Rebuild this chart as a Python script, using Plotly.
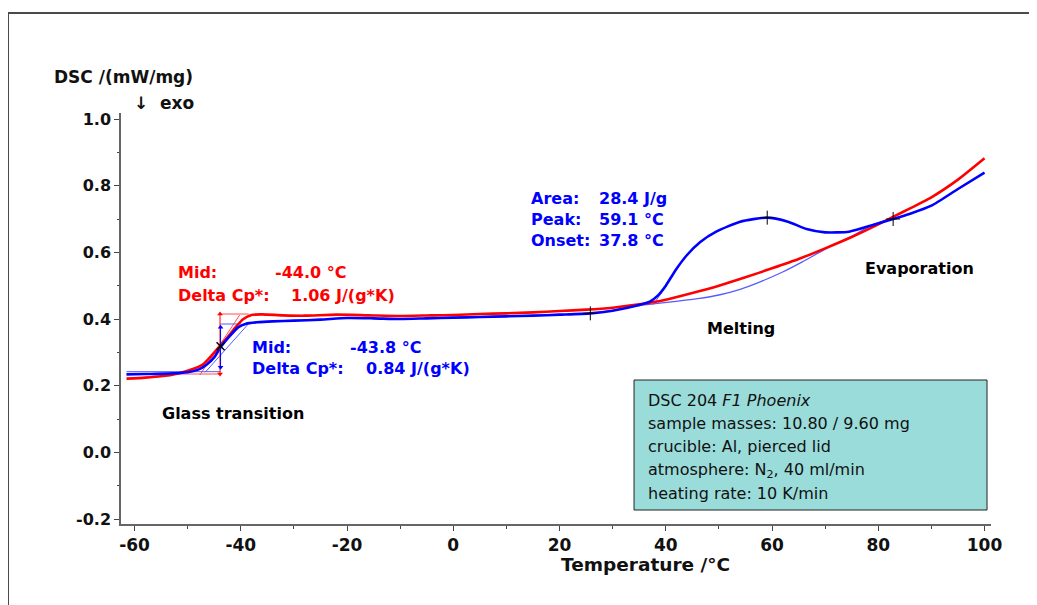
import plotly.graph_objects as go

# ---------------- data ----------------
temp_red = [-61.5, -58, -55, -52, -49, -47, -45.5, -44, -42.5, -41, -39.5, -38, -36, -32, -28,
            -22, -16, -10, -4, 0, 5, 10, 15, 20, 25, 30, 35, 40, 45, 50, 55, 60, 65, 70, 75,
            80, 85, 90, 95, 100]
dsc_red = [0.221, 0.224, 0.228, 0.236, 0.250, 0.265, 0.290, 0.318, 0.345, 0.375, 0.400, 0.412,
           0.414, 0.411, 0.410, 0.413, 0.411, 0.409, 0.411, 0.412, 0.415, 0.417, 0.420, 0.424,
           0.428, 0.434, 0.444, 0.458, 0.478, 0.500, 0.525, 0.552, 0.580, 0.612, 0.646, 0.684,
           0.724, 0.765, 0.818, 0.882]

temp_blue = [-61.5, -58, -54, -50, -48, -46.5, -45, -43.8, -42, -40.5, -39, -37, -34, -30, -25,
             -20, -15, -10, -5, 0, 5, 10, 15, 20, 25.8, 30, 35, 37, 38.5, 40, 42, 44, 46.5, 49.5,
             54, 59, 63, 66.5, 70, 74.5, 79, 82.8, 86, 90, 95, 100]
dsc_blue = [0.234, 0.235, 0.236, 0.240, 0.248, 0.262, 0.285, 0.315, 0.350, 0.375, 0.386, 0.390,
            0.393, 0.395, 0.398, 0.403, 0.402, 0.400, 0.402, 0.404, 0.406, 0.408, 0.410, 0.413,
            0.417, 0.425, 0.442, 0.452, 0.470, 0.500, 0.550, 0.592, 0.631, 0.662, 0.692, 0.704,
            0.692, 0.670, 0.660, 0.662, 0.682, 0.700, 0.716, 0.740, 0.790, 0.839]

# melting peak baseline (blue, thin)
base_temp = [25.8, 30, 35, 38, 42, 46, 50, 54, 58, 62, 66, 70.3, 75, 79, 82.8]
base_dsc = [0.417, 0.426, 0.440, 0.446, 0.453, 0.461, 0.472, 0.489, 0.513, 0.541, 0.574, 0.612,
            0.648, 0.683, 0.702]
onset_tan_temp = [37.6, 40.2]
onset_tan_dsc = [0.443, 0.500]

# glass transition evaluation constructions
red_low_temp = [-61.5, -43.9]
red_low_dsc = [0.235, 0.235]
red_high_temp = [-43.9, -38.5]
red_high_dsc = [0.415, 0.415]
red_tan_temp = [-47.7, -40.2]
red_tan_dsc = [0.232, 0.412]
red_step_temp = [-43.9, -43.9]
red_step_dsc = [0.235, 0.415]

blue_low_temp = [-61.5, -43.8]
blue_low_dsc = [0.242, 0.242]
blue_high_temp = [-43.8, -39.9]
blue_high_dsc = [0.385, 0.385]
blue_tan_temp = [-46.7, -38.3]
blue_tan_dsc = [0.240, 0.390]
blue_step_temp = [-43.8, -43.8]
blue_step_dsc = [0.255, 0.375]

mid_temp = [-43.8]
mid_dsc = [0.318]

mark_temp = [25.8, 59.1, 82.8]
mark_dsc = [0.417, 0.704, 0.700]

x_tickvals = [-60, -40, -20, 0, 20, 40, 60, 80, 100]
x_ticktext = ["-60", "-40", "-20", "0", "20", "40", "60", "80", "100"]
x_minor = [-50, -30, -10, 10, 30, 50, 70, 90]
y_tickvals = [-0.2, 0.0, 0.2, 0.4, 0.6, 0.8, 1.0]
y_ticktext = ["-0.2", "0.0", "0.2", "0.4", "0.6", "0.8", "1.0"]
y_minor = [-0.1, 0.1, 0.3, 0.5, 0.7, 0.9]

info_lines = ["DSC 204 <i>F1 Phoenix</i>",
              "sample masses: 10.80 / 9.60 mg",
              "crucible: Al, pierced lid",
              "atmosphere: N<sub>2</sub>, 40 ml/min",
              "heating rate: 10 K/min"]

RED = "#ff0000"
BLUE = "#0000ff"
LRED = "#ff5050"
LBLUE = "#5a5aff"
BOLD = "DejaVu Sans"

# page geometry (the page body has an 8 px margin)
OFF = 8
W, H = 1037 - OFF, 605 - OFF
L, R, T, B = 121 - OFF, 46, 113 - OFF, 81
pw, ph = W - L - R, H - T - B


def px2paper_x(px):
    return (px - OFF - L) / pw


def px2paper_y(py):
    return (H - B - (py - OFF)) / ph


fig = go.Figure()


def thin(xs, ys, color, width=1.0, shape="linear"):
    fig.add_trace(go.Scatter(x=xs, y=ys, mode="lines", line=dict(color=color, width=width, shape=shape),
                             hoverinfo="skip"))


# thin construction lines
thin(red_low_temp, red_low_dsc, LRED)
thin(red_high_temp, red_high_dsc, LRED)
thin(red_tan_temp, red_tan_dsc, LRED)
thin(blue_low_temp, blue_low_dsc, LBLUE)
thin(blue_high_temp, blue_high_dsc, LBLUE)
thin(blue_tan_temp, blue_tan_dsc, LBLUE)
thin(base_temp, base_dsc, LBLUE, 1.3, "spline")
thin(onset_tan_temp, onset_tan_dsc, LBLUE)

# main curves
fig.add_trace(go.Scatter(x=temp_red, y=dsc_red, mode="lines",
                         line=dict(color=RED, width=2.6, shape="spline", smoothing=0.6)))
fig.add_trace(go.Scatter(x=temp_blue, y=dsc_blue, mode="lines",
                         line=dict(color=BLUE, width=2.6, shape="spline", smoothing=0.6)))

# step arrows
fig.add_trace(go.Scatter(x=red_step_temp, y=red_step_dsc, mode="lines+markers",
                         line=dict(color=RED, width=1),
                         marker=dict(symbol=["triangle-down", "triangle-up"], size=5, color=RED)))
fig.add_trace(go.Scatter(x=blue_step_temp, y=blue_step_dsc, mode="lines+markers",
                         line=dict(color=BLUE, width=1),
                         marker=dict(symbol=["triangle-down", "triangle-up"], size=5, color=BLUE)))

# markers
fig.add_trace(go.Scatter(x=mid_temp, y=mid_dsc, mode="markers",
                         marker=dict(symbol="x-thin", size=8, line=dict(color="black", width=1.5))))
fig.add_trace(go.Scatter(x=mark_temp, y=mark_dsc, mode="markers",
                         marker=dict(symbol="cross-thin", size=10, line=dict(color="black", width=1))))


def txt(x, y, s, color="black", size=16):
    fig.add_annotation(x=x, y=y, xref="x", yref="y", text=s, showarrow=False,
                       xanchor="left", yanchor="middle",
                       font=dict(family=BOLD, size=size, color=color, weight="bold"))


# red Tg text
txt(-52.2, 0.541, "Mid:", RED)
txt(-33.9, 0.541, "-44.0 °C", RED)
txt(-52.2, 0.472, "Delta Cp*:", RED)
txt(-30.9, 0.472, "1.06 J/(g*K)", RED)
# blue Tg text
txt(-38.3, 0.316, "Mid:", BLUE)
txt(-19.8, 0.316, "-43.8 °C", BLUE)
txt(-38.3, 0.253, "Delta Cp*:", BLUE)
txt(-16.8, 0.253, "0.84 J/(g*K)", BLUE)
# peak text
txt(14.3, 0.763, "Area:", BLUE)
txt(27.1, 0.763, "28.4 J/g", BLUE)
txt(14.3, 0.700, "Peak:", BLUE)
txt(27.1, 0.700, "59.1 °C", BLUE)
txt(14.3, 0.637, "Onset:", BLUE)
txt(27.1, 0.637, "37.8 °C", BLUE)
# labels
txt(-55.2, 0.118, "Glass transition")
txt(47.4, 0.373, "Melting")
txt(77.1, 0.553, "Evaporation")

# info box
fig.add_shape(type="rect", xref="x", yref="y", x0=34.03, x1=100.47, y0=-0.173, y1=0.217,
              fillcolor="#9adcda", line=dict(color="#222222", width=1), layer="below")
info_y = [0.157, 0.087, 0.017, -0.053, -0.122]
for yy, line in zip(info_y, info_lines):
    fig.add_annotation(x=36.3, y=yy, xref="x", yref="y", text=line, showarrow=False,
                       xanchor="left", yanchor="middle",
                       font=dict(family="DejaVu Sans", size=16, color="#111111"))

# axis titles (positions given in page pixels)
fig.add_annotation(x=px2paper_x(52), y=px2paper_y(77), xref="paper", yref="paper",
                   text="DSC /(mW/mg)", showarrow=False, xanchor="left", yanchor="middle",
                   font=dict(family=BOLD, size=17, color="#111111", weight="bold"))
fig.add_annotation(x=px2paper_x(132), y=px2paper_y(103), xref="paper", yref="paper",
                   text="↓  exo", showarrow=False, xanchor="left", yanchor="middle",
                   font=dict(family=BOLD, size=17, color="#111111", weight="bold"))
fig.add_annotation(x=px2paper_x(645), y=px2paper_y(564), xref="paper", yref="paper",
                   text="Temperature /°C", showarrow=False, xanchor="center", yanchor="middle",
                   font=dict(family=BOLD, size=18.5, color="#111111", weight="bold"))

# frame lines (top and left edges of the surrounding panel)
fig.add_shape(type="line", xref="paper", yref="paper", x0=px2paper_x(8), x1=px2paper_x(1040),
              y0=px2paper_y(13), y1=px2paper_y(13), line=dict(color="#4a4a4a", width=2))
fig.add_shape(type="line", xref="paper", yref="paper", x0=px2paper_x(8), x1=px2paper_x(8),
              y0=px2paper_y(13), y1=px2paper_y(610), line=dict(color="#4a4a4a", width=2))

axis_common = dict(showgrid=False, zeroline=False, showline=True, linecolor="#666666", linewidth=1.5,
                   ticks="outside", tickcolor="#444444", ticklen=5, tickwidth=1)
fig.update_xaxes(range=[-62.54, 101.22], tickmode="array", tickvals=x_tickvals, ticktext=x_ticktext,
                 tickfont=dict(family=BOLD, size=17, color="#111111", weight="bold"),
                 minor=dict(tickvals=x_minor, ticks="outside", ticklen=3, tickcolor="#444444"),
                 **axis_common)
fig.update_yaxes(range=[-0.215, 1.018], tickmode="array", tickvals=y_tickvals, ticktext=y_ticktext,
                 tickfont=dict(family=BOLD, size=16, color="#111111", weight="bold"),
                 minor=dict(tickvals=y_minor, ticks="outside", ticklen=2, tickcolor="#444444"),
                 **axis_common)

fig.update_layout(width=W, height=H, margin=dict(l=L, r=R, t=T, b=B, autoexpand=False),
                  paper_bgcolor="white", plot_bgcolor="white", showlegend=False)

fig.write_html("out.html")
